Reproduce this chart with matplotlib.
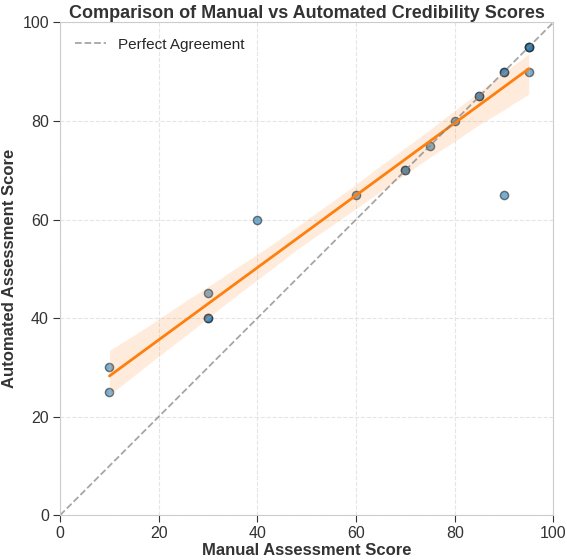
import matplotlib
matplotlib.use("Agg")
import matplotlib.pyplot as plt
import numpy as np
import seaborn as sns

manual = [10, 10, 30, 30, 30, 40, 60, 70, 70, 75, 80, 85, 85, 90, 90, 90, 95, 95, 95, 95]
automated = [30, 25, 45, 40, 40, 60, 65, 70, 70, 75, 80, 85, 85, 90, 90, 65, 95, 95, 95, 90]

sns.set_style("whitegrid", {"grid.linestyle": "--", "axes.edgecolor": "#cccccc"})
plt.rcParams['font.family'] = ['Liberation Sans', 'DejaVu Sans']

fig = plt.figure(figsize=(5.67, 5.6), dpi=100)
ax = fig.add_axes([0.106, 0.08, 0.87, 0.88])

sns.regplot(x=np.array(manual), y=np.array(automated), ax=ax, seed=1,
            scatter_kws=dict(s=35, alpha=0.6, color='#1f77b4', edgecolor='#222222', linewidths=1),
            line_kws=dict(color='#ff7f0e', lw=2), color='#ff7f0e')
ax.collections[0].set_facecolor('#1f77b4')
ax.collections[0].set_alpha(0.6)
ax.collections[1].set_alpha(0.15)

ax.plot([0, 100], [0, 100], '--', color='gray', alpha=0.7, lw=1.3, label='Perfect Agreement')
ax.set_xlim(0, 100)
ax.set_ylim(0, 100)
ax.set_xticks([0, 20, 40, 60, 80, 100])
ax.set_yticks([0, 20, 40, 60, 80, 100])
ax.tick_params(axis='both', labelsize=11.5, length=5, color='#333333', left=True, bottom=True, labelcolor='#333333', pad=3)
ax.grid(True, linestyle='--', color='#e5e5e5', lw=0.8)
ax.set_xlabel('Manual Assessment Score', fontsize=12, fontweight='bold', color='#333333', labelpad=1)
ax.set_ylabel('Automated Assessment Score', fontsize=12, fontweight='bold', color='#333333')
ax.set_title('Comparison of Manual vs Automated Credibility Scores', fontsize=13, fontweight='bold', color='#333333', pad=3)
ax.legend(loc='upper left', frameon=False, fontsize=11, borderaxespad=0.6)

fig.savefig('out.png', dpi=100)
